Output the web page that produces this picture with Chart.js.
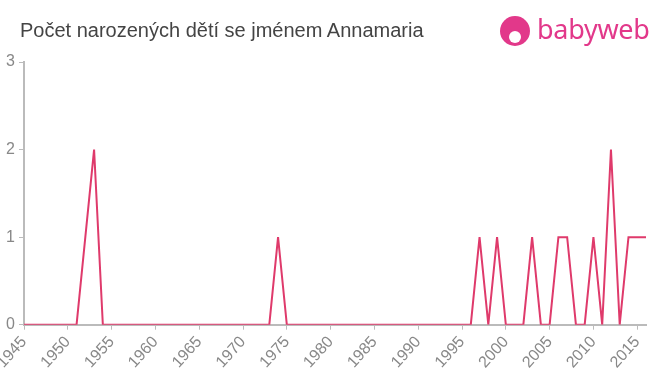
<!DOCTYPE html>
<html>
<head>
<meta charset="utf-8">
<script src="https://cdn.jsdelivr.net/npm/chart.js@4.4.0/dist/chart.umd.min.js"></script>
<style>
  html, body { margin: 0; padding: 0; background: #fff; }
  #wrap { position: relative; width: 660px; height: 375px; }
  #title {
    position: absolute; left: 20px; top: 19px;
    font-family: "Liberation Sans", Arial, sans-serif; font-size: 20px; color: #444;
  }
  #logo { position: absolute; left: 500px; top: 14px; height: 36px; }
  #logo .icon {
    position: absolute; left: 0; top: 2px; width: 30px; height: 30px;
    border-radius: 50%; background: #e2388a;
  }
  #logo .face {
    position: absolute; left: 9px; top: 15px; width: 12px; height: 12px;
    border-radius: 50%; background: #fff;
  }
  #logo .text {
    position: absolute; left: 37px; top: -4px;
    font-family: "Noto Sans", "Open Sans", sans-serif; font-size: 27px; color: #e2388a;
    letter-spacing: -0.3px;
  }
</style>
</head>
<body>
<div id="wrap">
  <canvas id="chart" width="660" height="375"></canvas>
  <div id="title">Počet narozených dětí se jménem Annamaria</div>
  <div id="logo"><div class="icon"><div class="face"></div></div><div class="text">babyweb</div></div>
</div>
<script>
'use strict';

// years 1945 .. 2016
let years = [];
for (let y = 1945; y <= 2016; y++) years.push(String(y));

// births per year
let births = [
  0, 0, 0, 0, 0,   // 1945-1949
  0, 0, 1, 2, 0,   // 1950-1954
  0, 0, 0, 0, 0,   // 1955-1959
  0, 0, 0, 0, 0,   // 1960-1964
  0, 0, 0, 0, 0,   // 1965-1969
  0, 0, 0, 0, 1,   // 1970-1974
  0, 0, 0, 0, 0,   // 1975-1979
  0, 0, 0, 0, 0,   // 1980-1984
  0, 0, 0, 0, 0,   // 1985-1989
  0, 0, 0, 0, 0,   // 1990-1994
  0, 0, 1, 0, 1,   // 1995-1999
  0, 0, 0, 1, 0,   // 2000-2004
  0, 1, 1, 0, 0,   // 2005-2009
  1, 0, 2, 0, 1,   // 2010-2014
  1, 1             // 2015-2016
];

let yTicks = [0, 1, 2, 3];

let canvasElem = document.getElementById('chart');
let ctx = canvasElem.getContext('2d');

new Chart(ctx, {
  type: 'line',
  data: {
    labels: years,
    datasets: [{
      data: births,
      borderColor: '#df3a6b',
      borderWidth: 2,
      pointRadius: 0,
      tension: 0,
      fill: false
    }]
  },
  options: {
    responsive: false,
    animation: false,
    layout: { padding: { top: 62, right: 14, left: 0, bottom: 0 } },
    plugins: { legend: { display: false }, tooltip: { enabled: false } },
    scales: {
      x: {
        afterFit: s => { s.paddingLeft = 0; s.paddingRight = 0; },
        grid: {
          drawOnChartArea: false,
          tickLength: 5,
          tickColor: c => (Number(years[c.index]) % 5 === 0) ? '#bbb' : 'rgba(0,0,0,0)'
        },
        border: { color: '#bbb', width: 2 },
        ticks: {
          autoSkip: false,
          minRotation: 48,
          maxRotation: 48,
          color: '#888',
          font: { family: '"Liberation Sans", Arial, sans-serif', size: 16 },
          callback: (v, i) => (Number(years[i]) % 5 === 0) ? years[i] : ''
        }
      },
      y: {
        min: 0,
        max: 3,
        afterFit: s => { s.width = 24; },
        afterBuildTicks: s => { s.ticks = yTicks.map(v => ({ value: v })); },
        grid: { drawOnChartArea: false, tickLength: 5, tickColor: '#bbb' },
        border: { color: '#bbb', width: 2 },
        ticks: {
          color: '#888',
          padding: 4,
          font: { family: '"Liberation Sans", Arial, sans-serif', size: 16 }
        }
      }
    }
  }
});
</script>
</body>
</html>
